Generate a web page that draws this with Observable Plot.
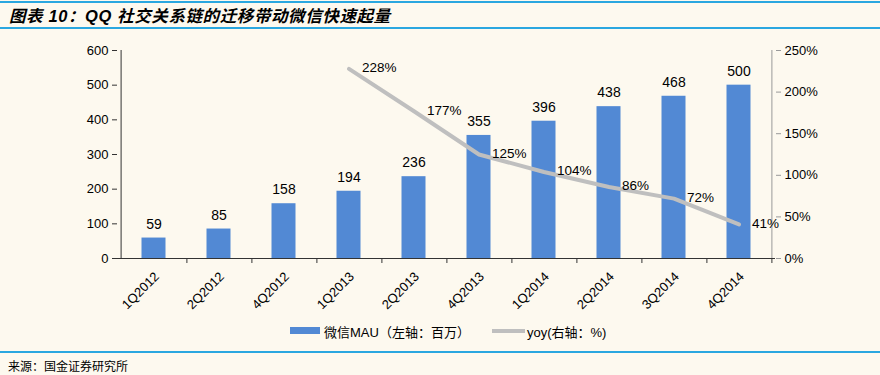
<!DOCTYPE html>
<html>
<head>
<meta charset="utf-8">
<script src="https://cdn.jsdelivr.net/npm/d3@7"></script>
<script src="https://cdn.jsdelivr.net/npm/@observablehq/plot@0.6"></script>
<style>
  html, body { margin: 0; padding: 0; background: #fdf9ef; }
  #wrap { position: relative; width: 880px; height: 375px; background: #fdf9ef; overflow: hidden;
          font-family: "Liberation Sans", Arial, "Noto Sans CJK SC", sans-serif; color: #000; }
  .hline { position: absolute; left: 0; width: 880px; height: 2px; background: #2aa7e0; }
  #title { position: absolute; left: 9px; top: 3px; font-family: "Liberation Sans", "Noto Sans CJK SC", sans-serif;
           font-size: 16.5px; font-weight: bold; font-style: italic; letter-spacing: 0.6px; white-space: nowrap; }
  #chart { position: absolute; left: 0; top: 0; }
  #legend { position: absolute; top: 322px; left: 0; width: 880px; height: 18px; font-size: 13px; }
  .leg { position: absolute; top: 0; white-space: nowrap; font-family: "Liberation Sans", "Noto Sans CJK SC", sans-serif; }
  #source { position: absolute; left: 8px; top: 357px; font-size: 12px; font-family: "Noto Sans CJK SC", sans-serif; }
</style>
</head>
<body>
<div id="wrap">
  <div class="hline" style="top:1px"></div>
  <div id="title">图表 10：QQ 社交关系链的迁移带动微信快速起量</div>
  <div class="hline" style="top:27px"></div>
  <div id="chart"></div>
  <div id="legend">
    <div class="leg" style="left:290px; top:5px; width:30px; height:7px; background:#5289d4;"></div>
    <div class="leg" style="left:324px;">微信MAU（左轴：百万）</div>
    <div class="leg" style="left:492px; top:7px; width:33px; height:4px; background:#bfbfbf;"></div>
    <div class="leg" style="left:527px;">yoy(右轴：%)</div>
  </div>
  <div class="hline" style="top:351px"></div>
  <div id="source">来源：国金证券研究所</div>
</div>
<script>
const categories = ["1Q2012","2Q2012","4Q2012","1Q2013","2Q2013","4Q2013","1Q2014","2Q2014","3Q2014","4Q2014"];
const mau = [59, 85, 158, 194, 236, 355, 396, 438, 468, 500];
const yoyCategories = ["1Q2013","2Q2013","4Q2013","1Q2014","2Q2014","3Q2014","4Q2014"];
const yoy = [228, 177, 125, 104, 86, 72, 41];
const leftTicks = [0, 100, 200, 300, 400, 500, 600];
const rightTicks = [0, 50, 100, 150, 200, 250];

const ratio = 600 / 250;
const bars = categories.map((c, i) => ({cat: c, v: mau[i]}));
const line = yoyCategories.map((c, i) => ({cat: c, v: yoy[i], y: yoy[i] * ratio}));

const W = 880, mL = 117, mR = 105;
const half = (W - mL - mR) / categories.length / 2;

const chart = Plot.plot({
  width: W,
  height: 318,
  marginTop: 50,
  marginBottom: 60,
  marginLeft: mL,
  marginRight: mR,
  style: {background: "transparent", fontFamily: "Liberation Sans, Arial, sans-serif", fontSize: "13px", color: "#000"},
  x: {domain: categories, padding: 0, label: null},
  y: {domain: [0, 600], label: null},
  marks: [
    Plot.barY(bars, {x: "cat", y: "v", fill: "#5289d4", insetLeft: 20.5, insetRight: 20.5}),
    Plot.ruleY([0], {stroke: "#333"}),
    Plot.ruleX([categories[0]], {y1: 0, y2: 600, dx: -half, stroke: "#333"}),
    Plot.ruleX([categories[categories.length - 1]], {y1: 0, y2: 600, dx: half, stroke: "#999"}),
    Plot.axisY({ticks: leftTicks, tickSize: 5, tickFormat: d => d, fontSize: 13, stroke: "#333", label: null}),
    Plot.axisY({anchor: "right", ticks: rightTicks.map(t => t * ratio), tickSize: 5, tickPadding: 4,
                tickFormat: d => Math.round(d / ratio) + "%", fontSize: 13, stroke: "#999", label: null}),
    Plot.axisX({tickSize: 5, dx: half, tickFormat: () => "", stroke: "#333", label: null}),
    Plot.axisX({tickSize: 0, tickRotate: -45, dx: 3, dy: 4, fontSize: 13, label: null}),
    Plot.text(bars, {x: "cat", y: "v", text: d => String(d.v), dy: -14, fontSize: 14}),
    Plot.line(line, {x: "cat", y: "y", stroke: "#bfbfbf", strokeWidth: 4}),
    Plot.text(line, {x: "cat", y: "y", text: d => d.v + "%", textAnchor: "start", dx: 13, dy: -1, fontSize: 13.5})
  ]
});
document.getElementById("chart").appendChild(chart);
</script>
</body>
</html>
